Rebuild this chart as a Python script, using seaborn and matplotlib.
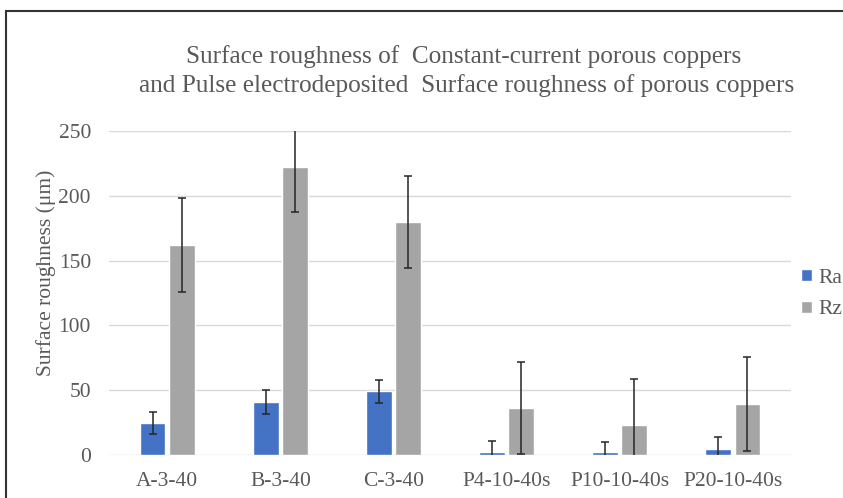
import numpy as np
import pandas as pd
import seaborn as sns
import matplotlib.pyplot as plt
from matplotlib.patches import Rectangle

samples = ['A-3-40', 'B-3-40', 'C-3-40', 'P4-10-40s', 'P10-10-40s', 'P20-10-40s']
ra = [25, 41, 49, 2, 2, 4.4]
ra_err = [8.5, 9.5, 9, 9, 8, 9.3]
rz = [162, 222.5, 179.5, 36.5, 23, 39.4]
rz_err = [36, 35, 35.5, 35.5, 36, 36]

df = pd.DataFrame({
    'sample': samples * 2,
    'param': ['Ra'] * len(samples) + ['Rz'] * len(samples),
    'value': ra + rz,
    'err': ra_err + rz_err,
})

sns.set_theme(style='white')
plt.rcParams['font.family'] = ['Liberation Serif', 'DejaVu Serif']
grey = '#595959'

fig = plt.figure(figsize=(8.43, 4.98), dpi=100)
ax = fig.add_axes([109 / 843, 1 - 455 / 498, (791 - 109) / 843, (455 - 131) / 498])

sns.barplot(data=df, x='sample', y='value', hue='param', order=samples,
            palette={'Ra': '#4472C4', 'Rz': '#A5A5A5'}, saturation=1,
            width=0.515, gap=0.125, errorbar=None, ax=ax, zorder=2)

# error bars drawn at the bar centres
for cont, (vals, errs) in zip(ax.containers, [(ra, ra_err), (rz, rz_err)]):
    xs = [p.get_x() + p.get_width() / 2 for p in cont.patches]
    ax.errorbar(xs, vals, yerr=errs, fmt='none', ecolor='#262626',
                elinewidth=1.1, capsize=3, capthick=1.1, zorder=3, clip_on=True)

ax.set_ylim(0, 250)
ax.set_yticks([0, 50, 100, 150, 200, 250])
ax.yaxis.grid(True, color='#d9d9d9', linewidth=1)
ax.set_axisbelow(True)
for s in ax.spines.values():
    s.set_visible(False)
ax.tick_params(axis='both', length=0, labelsize=15.5, labelcolor=grey)
ax.tick_params(axis='y', pad=13)
ax.tick_params(axis='x', pad=12)
ax.set_xlabel('')
ax.set_ylabel('Surface roughness (μm)', fontsize=15.5, color=grey, va='center')
ax.yaxis.set_label_coords((46 - 109) / 682, (455 - 273) / 324)

fig.text(464 / 843, 1 - 63 / 498, 'Surface roughness of  Constant-current porous coppers',
         ha='center', va='baseline', fontsize=18.2, color=grey)
fig.text(467 / 843, 1 - 92 / 498, 'and Pulse electrodeposited  Surface roughness of porous coppers',
         ha='center', va='baseline', fontsize=18.2, color=grey)

leg = ax.legend(loc='center left', bbox_to_anchor=(801 / 843, 1 - 294 / 498),
                bbox_transform=fig.transFigure, frameon=False, fontsize=15.5,
                handlelength=0.5, handleheight=0.5, handletextpad=0.3,
                labelspacing=0.6, borderaxespad=0, borderpad=0)
for t in leg.get_texts():
    t.set_color(grey)

# outer frame of the chart
fig.patches.append(Rectangle((6 / 843, -0.1), 1.1, 1 - 11 / 498 + 0.1,
                             transform=fig.transFigure, fill=False,
                             edgecolor='#333333', linewidth=1.5))

fig.savefig('out.png', dpi=100)
